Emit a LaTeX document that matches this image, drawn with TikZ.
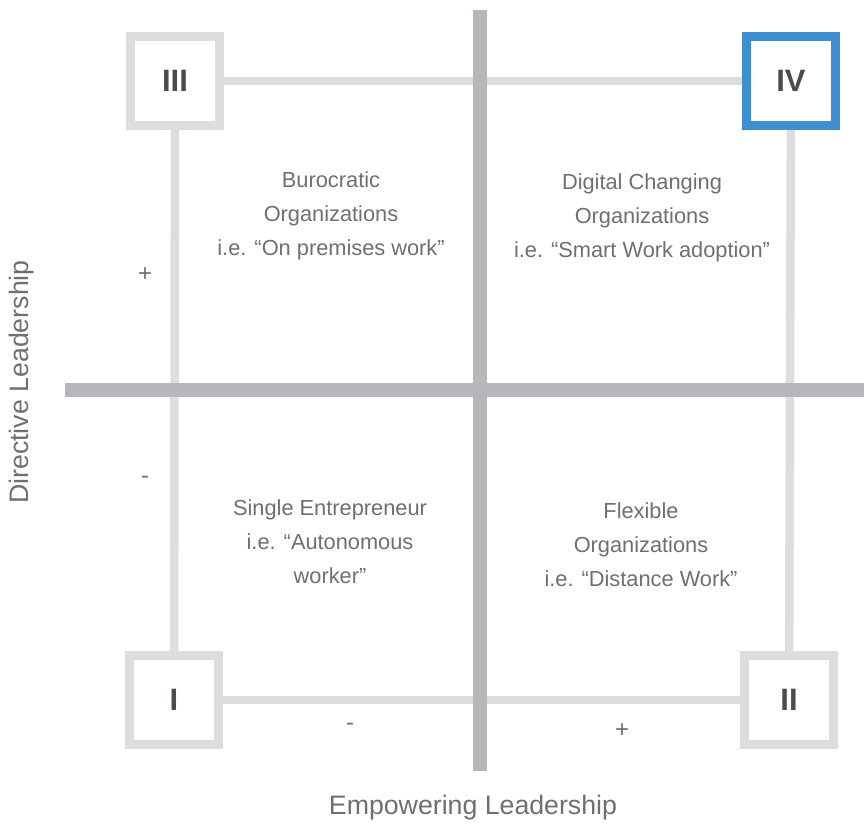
\documentclass[tikz,border=0pt]{standalone}
\usepackage{fontspec}
\setmainfont{Liberation Sans}
\usepackage{tikz}

\definecolor{framegray}{RGB}{220,221,223}
\definecolor{crossgray}{RGB}{182,183,187}
\definecolor{numgray}{RGB}{74,75,80}
\definecolor{textgray}{RGB}{110,111,114}
\definecolor{boxblue}{RGB}{61,143,207}

\begin{document}
\begin{tikzpicture}[x=0.025cm,y=-0.025cm,
        frame/.style={draw=framegray, line width=6.05pt},
        axisbar/.style={draw=crossgray, line width=9.6pt},
        numbox/.style={draw=framegray, fill=white, line width=6.4pt, minimum size=2.225cm,
            inner sep=0pt, text=numgray, font=\bfseries\fontsize{22}{26}\selectfont},
        quad/.style={align=center, text=textgray, font=\fontsize{15.5}{24.2}\selectfont},
        sign/.style={text=textgray, font=\fontsize{17}{19}\selectfont},
        axislabel/.style={text=textgray, font=\fontsize{19}{22}\selectfont}]
        \useasboundingbox (0,0) rectangle (864,825);

        % corner boxes
        \node[numbox] (boxIII) at (175,81) {III};
        \node[numbox, draw=boxblue] (boxIV) at (791,81) {IV};
        \node[numbox] (boxI) at (174,700) {I};
        \node[numbox] (boxII) at (789,700) {II};

        \draw[frame] (boxIII) -- (boxIV);
        \draw[frame] (boxIII) -- (boxI);
        \draw[frame] (boxI) -- (boxII);
        \draw[frame] (boxIV) -- (boxII);

        % axes
        \draw[axisbar] (480,9.5) -- (480,770.5);
        \draw[axisbar] (65,390) -- (864,390);

        \node[quad] (burocratic) at (331,216) {Burocratic\\Organizations\\i.e. “On premises work”};
        \node[quad] (digital) at (642,218) {Digital Changing\\Organizations\\i.e. “Smart Work adoption”};
        \node[quad] (single) at (330,542) {Single Entrepreneur\\i.e. “Autonomous\\worker”};
        \node[quad] (flexible) at (641,545) {Flexible\\Organizations\\i.e. “Distance Work”};

        \node[sign] (dirplus) at (145,275) {+};
        \node[sign] (dirminus) at (145,480) {-};
        \node[sign] (empminus) at (350,727) {-};
        \node[sign] (empplus) at (622,731) {+};

        \node[axislabel, rotate=90] (directive) at (22,382) {Directive Leadership};
        \node[axislabel] (empowering) at (473,808) {Empowering Leadership};
    \end{tikzpicture}
\end{document}
